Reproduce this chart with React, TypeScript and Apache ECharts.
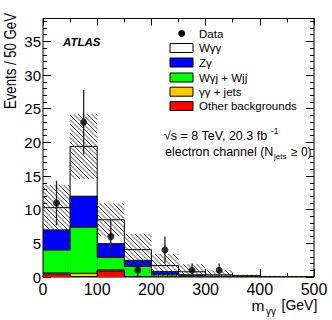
import React, { useEffect, useRef } from "react";
import * as echarts from "echarts";

// ---- data (events per 50 GeV bin) ----
const binLowEdges = [0, 50, 100, 150, 200, 250, 300, 350, 400, 450];
const binWidth = 50;
const otherBkg = [0.45, 0.05, 0.9, 0.02, 0.02, 0.02, 0.02, 0.12, 0.02, 0.02];
const gammaGammaJets = [0.15, 0.5, 0.15, 0.05, 0, 0, 0, 0, 0, 0];
const wgjWjj = [3.4, 6.85, 1.85, 1.5, 0.33, 0.15, 0.05, 0, 0, 0];
const zGamma = [3.0, 4.6, 2.05, 0.9, 0.45, 0.15, 0.05, 0, 0, 0];
const wGammaGamma = [3.3, 7.4, 3.55, 1.6, 0.9, 0.45, 0.2, 0.03, 0.03, 0.03];
const totalUnc = [3.4, 4.85, 2.45, 2.35, 1.7, 1.15, 0.7, 0.2, 0.1, 0.1];
const dataX = [25, 75, 125, 175, 225, 275, 325];
const dataY = [11, 23, 6, 1, 4, 1, 1];

const xTicks = [0, 100, 200, 300, 400, 500];
const yTicks = [0, 5, 10, 15, 20, 25, 30, 35];

const FONT = '"Liberation Sans", Arial, Helvetica, sans-serif';

// stacking order bottom -> top
const layers = [
  { name: "Other backgrounds", color: "#ff0000", values: otherBkg },
  { name: "γγ + jets", color: "#ffcc00", values: gammaGammaJets },
  { name: "Wγj + Wjj", color: "#00ff00", values: wgjWjj },
  { name: "Zγ", color: "#0000ff", values: zGamma },
  { name: "Wγγ", color: "#ffffff", values: wGammaGamma },
];

export default function App() {
  const ref = useRef<HTMLDivElement>(null);
  useEffect(() => {
    if (!ref.current) return;
    const chart = echarts.init(ref.current, null, { renderer: "svg" });

    // cumulative sums
    const cum: number[][] = [];
    layers.forEach((l, k) => {
      cum.push(l.values.map((v, i) => v + (k > 0 ? cum[k - 1][i] : 0)));
    });
    const total = cum[cum.length - 1];

    const layerSeries = layers
      .map((l, k) => {
        const c = cum[k];
        const data = binLowEdges.map((x0, i) => [
          x0,
          x0 + binWidth,
          c[i],
          i > 0 ? c[i - 1] : 0,
          i === binLowEdges.length - 1 ? 1 : 0,
        ]);
        return {
          type: "custom",
          name: l.name,
          data,
          encode: { x: [0, 1], y: [2, 3] },
          clip: true,
          renderItem: (params: any, api: any) => {
            const x0 = api.value(0);
            const x1 = api.value(1);
            const top = api.value(2);
            const prev = api.value(3);
            const last = api.value(4);
            const pTL = api.coord([x0, top]);
            const pBR = api.coord([x1, 0]);
            const pPrev = api.coord([x0, prev]);
            const children: any[] = [];
            if (top > 0) {
              children.push({
                type: "rect",
                shape: { x: pTL[0], y: pTL[1], width: pBR[0] - pTL[0], height: pBR[1] - pTL[1] },
                style: { fill: l.color },
              });
            }
            const pts = [
              [pPrev[0], pPrev[1]],
              [pTL[0], pTL[1]],
              [pBR[0], pTL[1]],
            ];
            if (last) pts.push([pBR[0], pBR[1]]);
            children.push({
              type: "polyline",
              shape: { points: pts },
              style: { stroke: "#000", lineWidth: 1, fill: null },
            });
            return { type: "group", children };
          },
          z: 2,
        };
      })
      .reverse();

    const bandData = binLowEdges.map((x0, i) => [
      x0,
      x0 + binWidth,
      Math.max(0, total[i] - totalUnc[i]),
      total[i] + totalUnc[i],
    ]);
    const hatchSeries = {
      type: "custom",
      name: "unc",
      data: bandData,
      encode: { x: [0, 1], y: [2, 3] },
      renderItem: (params: any, api: any) => {
        const a = api.coord([api.value(0), api.value(3)]);
        const b = api.coord([api.value(1), api.value(2)]);
        const X0 = a[0], Y0 = a[1], X1 = b[0], Y1 = b[1];
        const d = 4.5;
        const children: any[] = [];
        const kMin = Math.floor((Y0 - X1) / d) * d;
        for (let k = kMin; k <= Y1 - X0; k += d) {
          const lo = Math.max(X0, Y0 - k);
          const hi = Math.min(X1, Y1 - k);
          if (hi - lo > 0.3) {
            children.push({
              type: "line",
              shape: { x1: lo, y1: lo + k, x2: hi, y2: hi + k },
              style: { stroke: "#333", lineWidth: 0.9 },
            });
          }
        }
        return { type: "group", children };
      },
      z: 3,
    };

    const errData = dataX.map((x, i) => [x, dataY[i] - Math.sqrt(dataY[i]), dataY[i] + Math.sqrt(dataY[i])]);
    const errSeries = {
      type: "custom",
      name: "err",
      data: errData,
      encode: { x: 0, y: [1, 2] },
      renderItem: (params: any, api: any) => {
        const lo = api.coord([api.value(0), Math.max(0, api.value(1))]);
        const hi = api.coord([api.value(0), api.value(2)]);
        return {
          type: "line",
          shape: { x1: lo[0], y1: lo[1], x2: hi[0], y2: hi[1] },
          style: { stroke: "#222", lineWidth: 1.3 },
        };
      },
      z: 4,
    };

    const scatter = {
      type: "scatter",
      name: "Data",
      data: dataX.map((x, i) => [x, dataY[i]]),
      symbol: "circle",
      symbolSize: 7,
      itemStyle: { color: "#000" },
      z: 5,
    };

    const mkX = (pos: string, interval: number, len: number, labels: boolean) => ({
      type: "value",
      min: 0,
      max: 500,
      interval,
      position: pos,
      axisLine: { show: false, onZero: false },
      axisTick: { show: true, inside: true, length: len, lineStyle: { color: "#000", width: 1 } },
      axisLabel: {
        show: labels,
        fontSize: 16,
        color: "#000",
        fontFamily: FONT,
        margin: 4,
        showMinLabel: true,
        showMaxLabel: true,
        hideOverlap: false,
        formatter: (v: number) => (xTicks.includes(v) ? String(v) : ""),
      },
      splitLine: { show: false },
    });
    const mkY = (pos: string, interval: number, len: number, labels: boolean) => ({
      type: "value",
      min: 0,
      max: 38.4,
      interval,
      position: pos,
      axisLine: { show: false, onZero: false },
      axisTick: { show: true, inside: true, length: len, lineStyle: { color: "#000", width: 1 } },
      axisLabel: {
        show: labels,
        fontSize: 15,
        color: "#000",
        fontFamily: FONT,
        margin: 2,
        showMinLabel: true,
        showMaxLabel: false,
        hideOverlap: false,
        formatter: (v: number) => (yTicks.includes(v) ? String(v) : ""),
      },
      splitLine: { show: false },
    });

    const legendX = 170;
    const legendRows = [48, 62.5, 77.5, 91.7, 106];
    const legendItems = [...layers].reverse();
    const graphics: any[] = [];
    graphics.push({ type: "circle", shape: { cx: 181.7, cy: 33.5, r: 3.5 }, style: { fill: "#000" } });
    graphics.push({
      type: "text",
      x: 199,
      y: 33.5,
      style: { text: "Data", font: `11.5px ${FONT}`, fill: "#000", textVerticalAlign: "middle" },
    });
    legendItems.forEach((l, i) => {
      graphics.push({
        type: "rect",
        shape: { x: legendX, y: legendRows[i] - 4.5, width: 23, height: 9 },
        style: { fill: l.color, stroke: "#000", lineWidth: 1 },
      });
      graphics.push({
        type: "text",
        x: 199,
        y: legendRows[i],
        style: { text: l.name, font: `11.5px ${FONT}`, fill: "#000", textVerticalAlign: "middle" },
      });
    });
    graphics.push({
      type: "text",
      x: 63,
      y: 42,
      style: { text: "ATLAS", font: `italic bold 11.5px ${FONT}`, fill: "#000", textVerticalAlign: "middle" },
    });
    graphics.push({
      type: "text",
      x: 164,
      y: 136,
      style: { text: "√s = 8 TeV, 20.3 fb", font: `12.5px ${FONT}`, fill: "#000", textVerticalAlign: "middle" },
    });
    graphics.push({
      type: "text",
      x: 271,
      y: 131,
      style: { text: "-1", font: `8.5px ${FONT}`, fill: "#000", textVerticalAlign: "middle" },
    });
    graphics.push({
      type: "text",
      x: 165,
      y: 152,
      style: { text: "electron channel (N", font: `12.5px ${FONT}`, fill: "#000", textVerticalAlign: "middle" },
    });
    graphics.push({
      type: "text",
      x: 274,
      y: 156,
      style: { text: "jets", font: `8px ${FONT}`, fill: "#000", textVerticalAlign: "middle" },
    });
    graphics.push({
      type: "text",
      x: 291,
      y: 152,
      style: { text: "≥ 0)", font: `12px ${FONT}`, fill: "#000", textVerticalAlign: "middle" },
    });
    graphics.push({
      type: "text",
      x: 10,
      y: 13,
      rotation: Math.PI / 2,
      scaleX: 0.8,
      style: { text: "Events / 50 GeV", font: `16.5px ${FONT}`, fill: "#000", textAlign: "right", textVerticalAlign: "middle" },
    });
    graphics.push({
      type: "text",
      x: 251.5,
      y: 305.5,
      style: { text: "m", font: `15.5px ${FONT}`, fill: "#000", textVerticalAlign: "middle" },
    });
    graphics.push({
      type: "text",
      x: 266,
      y: 311,
      style: { text: "γγ", font: `10px ${FONT}`, fill: "#000", textVerticalAlign: "middle" },
    });
    graphics.push({
      type: "text",
      x: 281.5,
      y: 305,
      style: { text: "[GeV]", font: `14px ${FONT}`, fill: "#000", textVerticalAlign: "middle" },
    });

    chart.setOption({
      animation: false,
      backgroundColor: "#fff",
      grid: {
        left: 43,
        right: 18,
        top: 18.5,
        bottom: 43,
        show: true,
        borderColor: "#000",
        borderWidth: 1,
        backgroundColor: "transparent",
        containLabel: false,
        outerBoundsMode: "none",
      },
      xAxis: [mkX("bottom", 100, 8, true), mkX("bottom", 50, 4, false), mkX("top", 100, 7, false), mkX("top", 50, 4, false)],
      yAxis: [mkY("left", 5, 8, true), mkY("left", 1, 4, false), mkY("right", 5, 8, false), mkY("right", 1, 4, false)],
      series: [...layerSeries, hatchSeries, errSeries, scatter],
      graphic: graphics,
    } as any);

    return () => chart.dispose();
  }, []);
  return <div ref={ref} style={{ position: "fixed", left: 0, top: 0, width: 332, height: 320 }} />;
}
